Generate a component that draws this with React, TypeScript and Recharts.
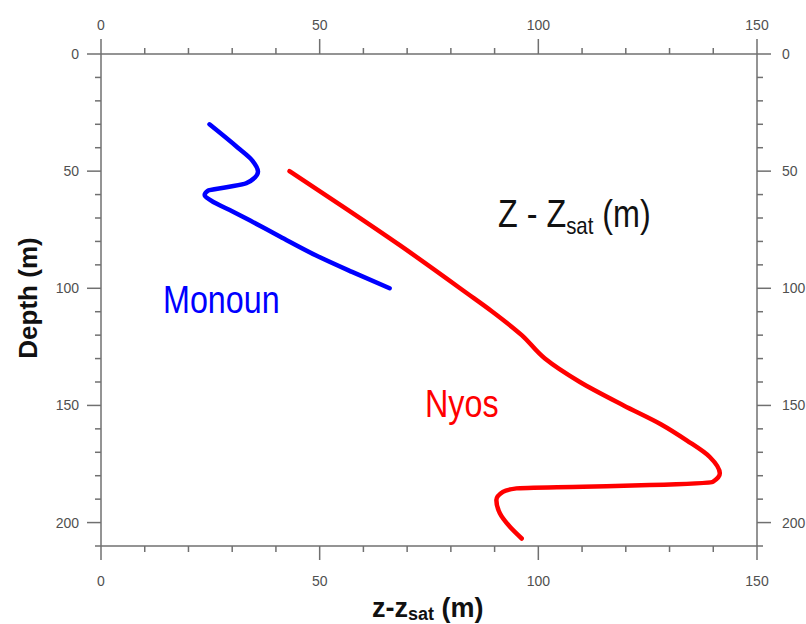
import { LineChart, Line, XAxis, YAxis } from 'recharts'

// Monoun profile: depth (m) -> z - z_sat (m)
const monounDepth = [30, 40, 45.5, 50.2, 55.2, 56.9, 58.4, 60.2, 62.6, 67.3, 71, 78, 86, 93, 100]
const monounZ = [24.8, 31.3, 34.6, 35.9, 33.2, 28.7, 24.4, 23.7, 25.2, 30.2, 34, 41, 49.2, 57.4, 66]

// Nyos profile
const nyosDepth = [50, 66, 81.6, 102, 110, 120, 130, 140, 150, 158, 165, 172, 179, 182.6, 184, 184.7, 185.4, 186.9, 190.4, 196, 201.8, 206.8]
const nyosZ = [43.1, 56, 68.3, 83.6, 89.5, 96.2, 101.5, 109.5, 119.5, 128, 134, 139.2, 141.5, 139.9, 125.5, 110.2, 95, 91.9, 90.4, 91.2, 93.5, 96.2]

const xTicks = [0, 10, 20, 30, 40, 50, 60, 70, 80, 90, 100, 110, 120, 130, 140, 150]
const yTicks = [0, 10, 20, 30, 40, 50, 60, 70, 80, 90, 100, 110, 120, 130, 140, 150, 160, 170, 180, 190, 200, 210]

const monoun = monounDepth.map((d, i) => ({ depth: d, z: monounZ[i] }))
const nyos = nyosDepth.map((d, i) => ({ depth: d, z: nyosZ[i] }))

const AXIS = '#707070'
const LABEL = '#505050'
const FONT = '"Liberation Sans", Arial, sans-serif'

const isMajor = (v: number) => v % 50 === 0
const labelText = (v: number) => (v === 210 ? null : v)

const BottomTick = ({ x, y, payload }: any) => {
  const m = isMajor(payload.value)
  return (
    <g>
      <line x1={x} x2={x} y1={y} y2={y + (m ? 14 : 6)} stroke={AXIS} strokeWidth={1.5} />
      {m && <text x={x} y={y + 40} textAnchor="middle" fontSize={14} fill={LABEL} fontFamily={FONT}>{payload.value}</text>}
    </g>
  )
}

const TopTick = ({ x, y, payload }: any) => {
  const m = isMajor(payload.value)
  return (
    <g>
      <line x1={x} x2={x} y1={y} y2={y - (m ? 15 : 6)} stroke={AXIS} strokeWidth={1.5} />
      {m && <text x={x} y={y - 24} textAnchor="middle" fontSize={14} fill={LABEL} fontFamily={FONT}>{payload.value}</text>}
    </g>
  )
}

const LeftTick = ({ x, y, payload }: any) => {
  const m = isMajor(payload.value)
  return (
    <g>
      <line x1={x} x2={x - (m ? 14 : 6)} y1={y} y2={y} stroke={AXIS} strokeWidth={1.5} />
      {m && labelText(payload.value) !== null && (
        <text x={x - 22} y={y + 5} textAnchor="end" fontSize={14} fill={LABEL} fontFamily={FONT}>{payload.value}</text>
      )}
    </g>
  )
}

const RightTick = ({ x, y, payload }: any) => {
  const m = isMajor(payload.value)
  return (
    <g>
      <line x1={x} x2={x + (m ? 14 : 6)} y1={y} y2={y} stroke={AXIS} strokeWidth={1.5} />
      {m && labelText(payload.value) !== null && (
        <text x={x + 25} y={y + 5} textAnchor="start" fontSize={14} fill={LABEL} fontFamily={FONT}>{payload.value}</text>
      )}
    </g>
  )
}

export default function App() {
  return (
    <div style={{ position: 'fixed', left: 0, top: 0, width: 806, height: 624, background: '#fff' }}>
      <LineChart width={806} height={624} layout="vertical" margin={{ top: 0, right: 0, bottom: 0, left: 0 }}>
        <XAxis xAxisId="bottom" orientation="bottom" type="number" domain={[0, 150]} ticks={xTicks} interval={0}
          height={78} tickSize={0} tickMargin={0} tick={<BottomTick />} axisLine={{ stroke: AXIS, strokeWidth: 1.5 }} />
        <XAxis xAxisId="top" orientation="top" type="number" domain={[0, 150]} ticks={xTicks} interval={0}
          height={54} tickSize={0} tickMargin={0} tick={<TopTick />} axisLine={{ stroke: AXIS, strokeWidth: 1.5 }} />
        <YAxis yAxisId="left" orientation="left" type="number" dataKey="depth" domain={[0, 210]} ticks={yTicks} interval={0}
          width={101} tickSize={0} tickMargin={0} tick={<LeftTick />} axisLine={{ stroke: AXIS, strokeWidth: 1.5 }} />
        <YAxis yAxisId="right" orientation="right" type="number" dataKey="depth" domain={[0, 210]} ticks={yTicks} interval={0}
          width={49} tickSize={0} tickMargin={0} tick={<RightTick />} axisLine={{ stroke: AXIS, strokeWidth: 1.5 }} />
        <Line data={monoun} xAxisId="bottom" yAxisId="left" dataKey="z" type="monotone" stroke="#0000ff"
          strokeWidth={4.5} dot={false} isAnimationActive={false} strokeLinecap="round" />
        <Line data={nyos} xAxisId="top" yAxisId="right" dataKey="z" type="monotone" stroke="#ff0000"
          strokeWidth={4.5} dot={false} isAnimationActive={false} strokeLinecap="round" />
      </LineChart>
      <svg width={806} height={624} style={{ position: 'absolute', left: 0, top: 0, pointerEvents: 'none' }} fontFamily={FONT}>
        <text transform="translate(163,313) scale(0.85,1)" fontSize={38} fill="#0000ff">Monoun</text>
        <text transform="translate(425,417) scale(0.85,1)" fontSize={38} fill="#ff0000">Nyos</text>
        <text transform="translate(498,227) scale(0.85,1)" fontSize={38} fill="#111">
          Z - Z<tspan fontSize={24} dy={7}>sat</tspan><tspan dy={-7}> (m)</tspan>
        </text>
        <text transform="translate(37,298) rotate(-90)" textAnchor="middle" fontSize={26} fontWeight="bold" fill="#111">Depth (m)</text>
        <text x={372} y={617} fontSize={27} fontWeight="bold" fill="#111">
          z-z<tspan fontSize={18} dy={3}>sat</tspan><tspan dy={-3}> (m)</tspan>
        </text>
      </svg>
    </div>
  )
}
